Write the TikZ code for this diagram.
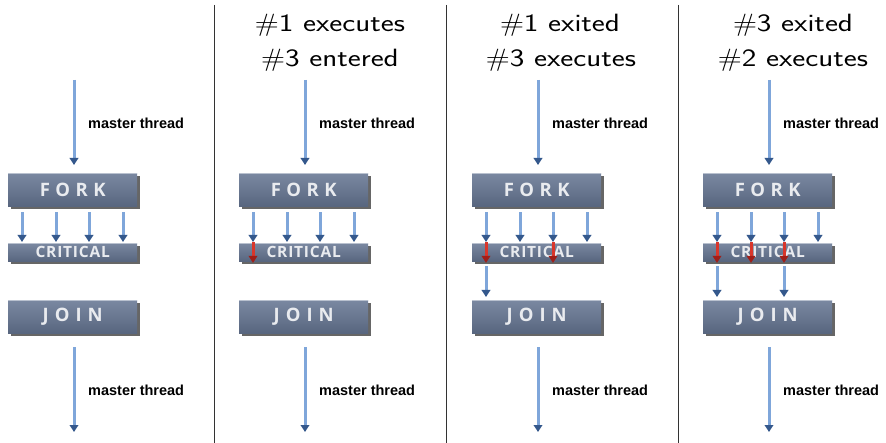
\documentclass[tikz,border=0pt]{standalone}
\usepackage{fontspec}
\usetikzlibrary{arrows.meta,shadows}
\newfontfamily\labelfont{Liberation Sans}
\newfontfamily\boxfont{Open Sans}
\definecolor{boxtop}{HTML}{7A88A1}
\definecolor{boxbot}{HTML}{58667F}
\definecolor{boxlight}{HTML}{B9C1CF}
\definecolor{boxtext}{HTML}{E9EBEF}
\definecolor{threadblue}{HTML}{7FA6DA}
\definecolor{threadhead}{HTML}{34588C}
\definecolor{critred}{HTML}{D9362B}
\definecolor{crithead}{HTML}{A01E18}
\definecolor{dividergray}{HTML}{333333}

\tikzset{
  stage/.style={rectangle, minimum width=129pt, inner sep=0pt, anchor=north west,
    top color=boxtop, bottom color=boxbot, draw=none,
    drop shadow={shadow xshift=2.5pt, shadow yshift=-2.5pt, fill=black, opacity=0.6},
    text=boxtext},
  bigstage/.style={stage, minimum height=33pt, font=\boxfont\bfseries\fontsize{18.5}{20}\selectfont},
  smallstage/.style={stage, minimum height=18pt, font=\boxfont\bfseries\fontsize{15.5}{16}\selectfont},
  threadarrow/.style={draw=threadblue, line width=3pt, -{Triangle[width=8.5pt,length=7pt,color=threadhead]}},
  critarrow/.style={draw=critred, line width=3pt, -{Triangle[width=8.5pt,length=7pt,color=crithead]}},
  masterlabel/.style={font=\labelfont\bfseries\fontsize{14.5}{16}\selectfont, anchor=west, inner sep=0pt},
  steptitle/.style={font=\sffamily\fontsize{25}{30}\selectfont, anchor=base, inner sep=0pt},
  divider/.style={draw=dividergray, line width=0.9pt},
  highlight/.style={draw=boxlight, line width=1pt},
}

% horizontally widened title text
\newcommand\widetext[1]{\scalebox{1.24}[1]{#1}}

% one column: FORK, CRITICAL, JOIN and the four threads between FORK and CRITICAL
\newcommand\stagepanel[2]{%
  \node[bigstage] (fork#1) at (#2+8,173) {F\kern5.5pt O\kern5.5pt R\kern5.5pt K};
  \node[smallstage] (crit#1) at (#2+8,243) {C\kern0.8pt R\kern0.8pt I\kern0.8pt T\kern0.8pt I\kern0.8pt C\kern0.8pt A\kern0.8pt L};
  \node[bigstage] (join#1) at (#2+8,300) {J\kern6pt O\kern6pt I\kern6pt N};
  \foreach \b in {fork#1,crit#1,join#1}
    \draw[highlight] ([yshift=-0.5pt]\b.north west) -- ([yshift=-0.5pt]\b.north east);
  \coordinate (mtop#1) at (#2+74,80);
  \coordinate (mbot#1) at (#2+74,432);
  \draw[threadarrow, shorten >=8pt] (mtop#1) -- (mtop#1 |- fork#1.north);
  \draw[threadarrow, shorten <=14pt] (mbot#1 |- join#1.south) -- (mbot#1);
  \node[masterlabel] (mlabtop#1) at (#2+88,123) {master thread};
  \node[masterlabel] (mlabbot#1) at (#2+88,390) {master thread};
  \foreach \dx in {14,48,81,115}
    \draw[threadarrow, shorten <=6pt, shorten >=1pt]
      ([xshift=\dx pt]fork#1.south west) -- ([xshift=\dx pt]crit#1.north west);
}

% a thread inside the critical section
\newcommand\critthread[2]{%
  \draw[critarrow] ([xshift=#2pt,yshift=1pt]crit#1.north west) -- ([xshift=#2pt,yshift=-1.5pt]crit#1.south west);
}
% a thread that has left the critical section
\newcommand\donethread[2]{%
  \draw[threadarrow, shorten <=5pt, shorten >=3pt]
    ([xshift=#2pt]crit#1.south west) -- ([xshift=#2pt]join#1.north west);
}

\begin{document}
\begin{tikzpicture}[x=1pt,y=-1pt]
  \path[fill=white] (0,0) rectangle (886,443);
  \useasboundingbox (0,0) rectangle (886,443);

  % column separators
  \foreach \sx in {214,446,678}
    \draw[divider] (\sx,5) -- (\sx,443);

  \stagepanel{a}{0}
  \stagepanel{b}{231}
  \stagepanel{c}{464}
  \stagepanel{d}{695}

  % column 2
  \node[steptitle] (titleb1) at (330,32) {\widetext{$\#$1 executes}};
  \node[steptitle] (titleb2) at (330,67) {\widetext{$\#$3 entered}};
  \critthread{b}{14}

  % column 3
  \node[steptitle] (titlec1) at (560,32) {\widetext{$\#$1 exited}};
  \node[steptitle] (titlec2) at (561,67) {\widetext{$\#$3 executes}};
  \critthread{c}{14}
  \critthread{c}{81}
  \donethread{c}{14}

  % column 4
  \node[steptitle] (titled1) at (793,32) {\widetext{$\#$3 exited}};
  \node[steptitle] (titled2) at (793,67) {\widetext{$\#$2 executes}};
  \critthread{d}{14}
  \critthread{d}{48}
  \critthread{d}{81}
  \donethread{d}{14}
  \donethread{d}{81}
\end{tikzpicture}
\end{document}
